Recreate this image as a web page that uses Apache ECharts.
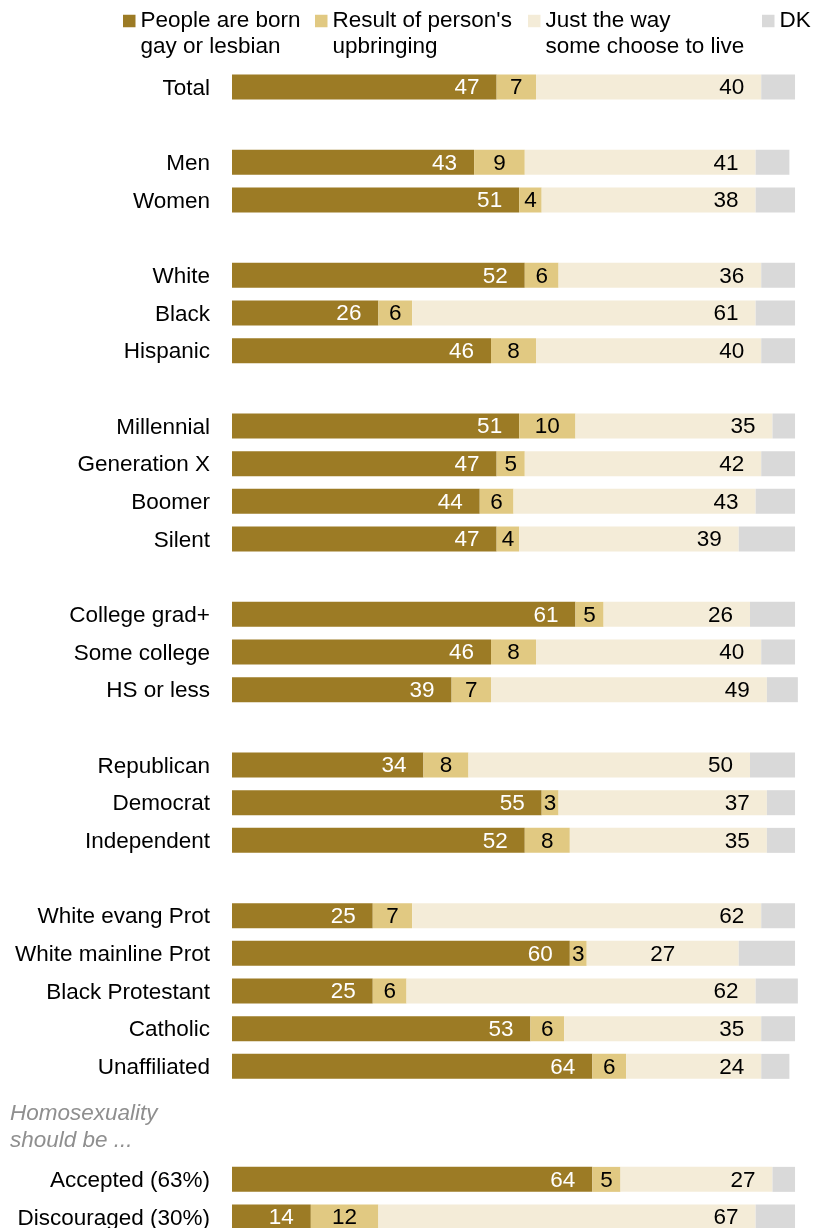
<!DOCTYPE html>
<html>
<head>
<meta charset="utf-8">
<style>
html,body{margin:0;padding:0;background:#fff;}
#chart{width:819px;height:1228px;}
</style>
<script src="https://cdn.jsdelivr.net/npm/echarts@6/dist/echarts.min.js"></script>
</head>
<body>
<div id="chart"></div>
<script>
const categories = ['Total', '', 'Men', 'Women', '', 'White', 'Black', 'Hispanic', '',
  'Millennial', 'Generation X', 'Boomer', 'Silent', '',
  'College grad+', 'Some college', 'HS or less', '',
  'Republican', 'Democrat', 'Independent', '',
  'White evang Prot', 'White mainline Prot', 'Black Protestant', 'Catholic', 'Unaffiliated', '', '',
  'Accepted (63%)', 'Discouraged (30%)'];

const seriesNames = ['People are born\ngay or lesbian', "Result of person's\nupbringing", 'Just the way\nsome choose to live', 'DK'];

const born       = [47, null, 43, 51, null, 52, 26, 46, null, 51, 47, 44, 47, null, 61, 46, 39, null, 34, 55, 52, null, 25, 60, 25, 53, 64, null, null, 64, 14];
const upbringing = [7, null, 9, 4, null, 6, 6, 8, null, 10, 5, 6, 4, null, 5, 8, 7, null, 8, 3, 8, null, 7, 3, 6, 6, 6, null, null, 5, 12];
const choose     = [40, null, 41, 38, null, 36, 61, 40, null, 35, 42, 43, 39, null, 26, 40, 49, null, 50, 37, 35, null, 62, 27, 62, 35, 24, null, null, 27, 67];
const dk         = [6, null, 6, 7, null, 6, 7, 6, null, 4, 6, 7, 10, null, 8, 6, 5.5, null, 8, 5, 5, null, 6, 10, 7.5, 6, 5, null, null, 4, 7];

const noteText = 'Homosexuality\nshould be ...';

const FONT = '"Liberation Sans", Arial, sans-serif';
const FS = 22.5;
const colors = ['#9C7B25', '#E1C982', '#F4ECD8', '#D9D9D9'];

const chart = echarts.init(document.getElementById('chart'));

function legendFor(i, left, twoLine) {
  return {
    data: [seriesNames[i]],
    left: left,
    top: twoLine ? -18 : 8,
    padding: 0,
    itemWidth: 12.5,
    itemHeight: 12.5,
    icon: 'rect',
    selectedMode: false,
    formatter: twoLine ? (name => '\n' + name) : (name => name),
    textStyle: { fontFamily: FONT, fontSize: FS, lineHeight: 26, color: '#000' }
  };
}

const chooseData = choose.map((v, i) =>
  categories[i] === 'White mainline Prot' ? { value: v, label: { position: 'inside' } } : v);

const option = {
  animation: false,
  textStyle: { fontFamily: FONT },
  title: {
    text: noteText,
    left: 10,
    top: 1100,
    padding: 0,
    textStyle: { fontFamily: FONT, fontSize: FS, fontStyle: 'italic', fontWeight: 'normal', color: '#8f8f8f', lineHeight: 27 }
  },
  legend: [
    legendFor(0, 123, true),
    legendFor(1, 315, true),
    legendFor(2, 528, true),
    legendFor(3, 762, false)
  ],
  grid: { left: 232, top: 68.17, width: 574.3, height: 1167.7, containLabel: false, outerBoundsMode: 'none' },
  xAxis: { type: 'value', min: 0, max: 102, show: false },
  yAxis: {
    type: 'category', inverse: true, data: categories,
    axisLine: { show: false }, axisTick: { show: false }, splitLine: { show: false },
    axisLabel: { interval: 0, fontFamily: FONT, fontSize: FS, color: '#000', margin: 22, verticalAlign: 'top', lineHeight: 3 }
  },
  series: [
    {
      name: seriesNames[0], type: 'bar', stack: 'all', data: born, barWidth: 25,
      itemStyle: { color: colors[0] },
      label: { show: true, position: 'insideRight', distance: 17, offset: [0, 1], color: '#fff', fontFamily: FONT, fontSize: FS }
    },
    {
      name: seriesNames[1], type: 'bar', stack: 'all', data: upbringing, barWidth: 25,
      itemStyle: { color: colors[1] },
      label: { show: true, position: 'inside', offset: [0, 1], color: '#000', fontFamily: FONT, fontSize: FS }
    },
    {
      name: seriesNames[2], type: 'bar', stack: 'all', data: chooseData, barWidth: 25,
      itemStyle: { color: colors[2] },
      label: { show: true, position: 'insideRight', distance: 17, offset: [0, 1], color: '#000', fontFamily: FONT, fontSize: FS }
    },
    {
      name: seriesNames[3], type: 'bar', stack: 'all', data: dk, barWidth: 25,
      itemStyle: { color: colors[3] },
      label: { show: false }
    }
  ]
};
chart.setOption(option);
</script>
</body>
</html>
